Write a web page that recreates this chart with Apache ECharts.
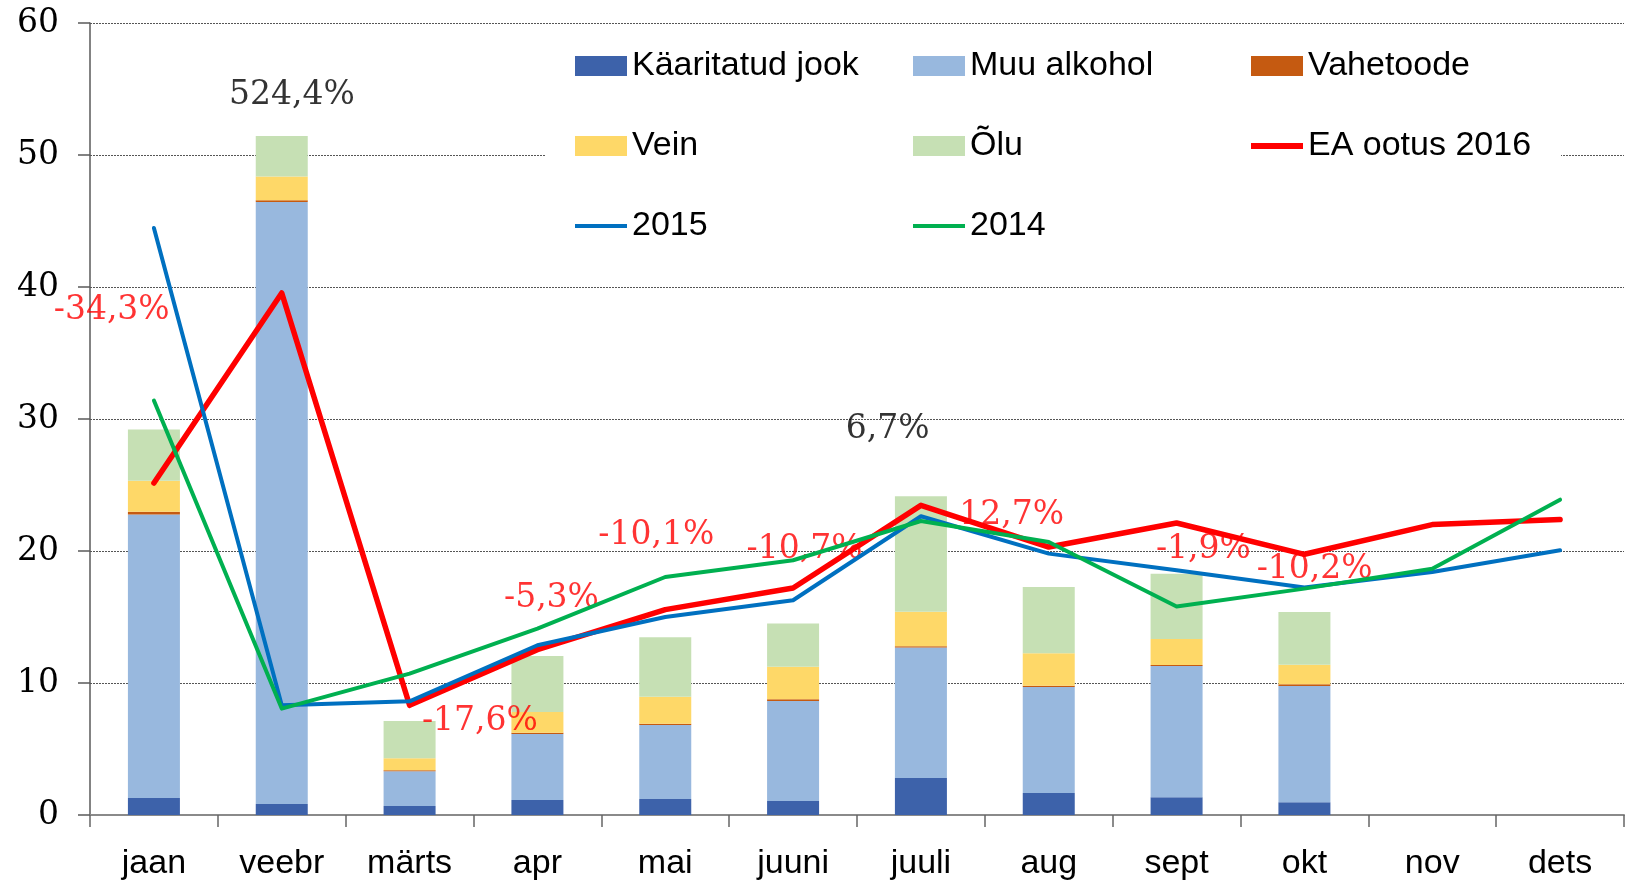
<!DOCTYPE html>
<html>
<head>
<meta charset="utf-8">
<script src="https://cdn.jsdelivr.net/npm/echarts@6/dist/echarts.min.js"></script>
<style>
html,body{margin:0;padding:0;background:#fff;}
#chart{width:1626px;height:882px;}
</style>
</head>
<body>
<div id="chart"></div>
<script>
// ---- data ----
const months = ['jaan','veebr','märts','apr','mai','juuni','juuli','aug','sept','okt','nov','dets'];
const yTicks = [0, 60, 10]; // min, max, interval

const kaaritatud = [1.29, 0.83, 0.68, 1.14, 1.21, 1.06, 2.80, 1.67, 1.34, 0.96, null, null];
const muuAlkohol = [21.47, 45.60, 2.63, 5.00, 5.60, 7.58, 9.88, 8.03, 9.95, 8.81, null, null];
const vahetoode = [0.22, 0.15, 0.08, 0.10, 0.10, 0.13, 0.10, 0.10, 0.08, 0.13, null, null];
const vein = [2.35, 1.80, 0.90, 1.57, 2.04, 2.47, 2.62, 2.46, 1.97, 1.49, null, null];
const olu = [3.87, 3.06, 2.84, 4.24, 4.52, 3.26, 8.74, 5.02, 4.93, 3.99, null, null];

const eaOotus2016 = [25.15, 39.55, 8.31, 12.53, 15.56, 17.20, 23.46, 20.30, 22.12, 19.75, 22.00, 22.38];
const y2015 = [44.47, 8.31, 8.61, 12.86, 15.00, 16.27, 22.63, 19.80, 18.54, 17.23, 18.41, 20.05];
const y2014 = [31.40, 8.06, 10.71, 14.12, 18.03, 19.30, 22.27, 20.68, 15.80, 17.15, 18.66, 23.89];

// change notes: text, month position (index, fractional) and value level
const blackNoteText = ['524,4%', '6,7%'];
const blackNoteX = [1.08, 5.74];
const blackNoteY = [54.5, 29.2];
const redNoteText = ['-34,3%', '-17,6%', '-5,3%', '-10,1%', '-10,7%', '12,7%', '-1,9%', '-10,2%'];
const redNoteX = [-0.33, 2.55, 3.11, 3.93, 5.09, 6.71, 8.21, 9.08];
const redNoteY = [38.2, 7.1, 16.4, 21.2, 20.1, 22.7, 20.1, 18.6];

// ---- chart ----
const chart = echarts.init(document.getElementById('chart'));
const sans = 'Liberation Sans';
const serif = 'DejaVu Serif';

function barSeries(name, data, color) {
  return {name, type:'bar', stack:'total', data, barWidth:52,
    itemStyle:{color}, emphasis:{disabled:true}};
}
function lineSeries(name, data, color, width) {
  return {name, type:'line', data, symbol:'none', smooth:false,
    lineStyle:{color, width, cap:'round', join:'round'}, itemStyle:{color},
    emphasis:{disabled:true}};
}
function noteSeries(texts, xs, ys, color) {
  return {type:'scatter', xAxisIndex:1, symbol:'circle', symbolSize:1,
    itemStyle:{color:'transparent'}, silent:true,
    data: texts.map((t,i)=>({value:[xs[i], ys[i]], name:t})),
    label:{show:true, position:'inside', formatter:p=>p.name, color,
      fontFamily:serif, fontSize:33}};
}

const legendBase = {
  orient:'horizontal', backgroundColor:'#fff', itemWidth:52, itemHeight:20,
  itemGap:28, left:546, selectedMode:false,
  textStyle:{fontFamily:sans, fontSize:34, color:'#000', width:253, overflow:'truncate', lineHeight:34}
};
const thickLine = 'path://M0,0H52V6H0Z';
const thinLine = 'path://M0,0H52V4H0Z';

const option = {
  animation:false,
  backgroundColor:'#fff',
  grid:{left:90, right:2, top:23, bottom:67, containLabel:false},
  legend:[
    Object.assign({}, legendBase, {top:25, padding:[24,0,24,29],
      data:[{name:'Käaritatud jook', icon:'rect'},{name:'Muu alkohol', icon:'rect'},{name:'Vahetoode', icon:'rect'}]}),
    Object.assign({}, legendBase, {top:105, padding:[24,0,24,29],
      data:[{name:'Vein', icon:'rect'},{name:'Õlu', icon:'rect'},{name:'EA ootus 2016', icon:thickLine}]}),
    Object.assign({}, legendBase, {top:185, padding:[24,338,24,29],
      data:[{name:'2015', icon:thinLine},{name:'2014', icon:thinLine}]})
  ],
  xAxis:[{
    type:'category', data:months, boundaryGap:true,
    axisLine:{show:true, lineStyle:{color:'#8a8a8a', width:2}},
    axisTick:{show:true, alignWithLabel:false, length:12, lineStyle:{color:'#666', width:1.5}},
    axisLabel:{fontFamily:sans, fontSize:34, color:'#000', margin:32, interval:0},
    splitLine:{show:false}
  },{
    type:'value', min:-0.5, max:11.5, show:false
  }],
  yAxis:{
    type:'value', min:yTicks[0], max:yTicks[1], interval:yTicks[2],
    axisLine:{show:true, onZero:false, lineStyle:{color:'#5a5a5a', width:1.5}},
    axisTick:{show:true, length:12, lineStyle:{color:'#5a5a5a', width:1.5}},
    axisLabel:{fontFamily:serif, fontSize:33, color:'#000', margin:31},
    splitLine:{show:true, lineStyle:{color:'#555', width:1, type:[2,1]}}
  },
  series:[
    barSeries('Käaritatud jook', kaaritatud, '#3D62AA'),
    barSeries('Muu alkohol', muuAlkohol, '#98B8DE'),
    barSeries('Vahetoode', vahetoode, '#C55A11'),
    barSeries('Vein', vein, '#FED868'),
    barSeries('Õlu', olu, '#C6E0B4'),
    noteSeries(blackNoteText, blackNoteX, blackNoteY, '#000'),
    noteSeries(redNoteText, redNoteX, redNoteY, '#FF0000'),
    lineSeries('EA ootus 2016', eaOotus2016, '#FF0000', 5.5),
    lineSeries('2015', y2015, '#0070C0', 4),
    lineSeries('2014', y2014, '#00B050', 4)
  ]
};
chart.setOption(option);
</script>
</body>
</html>
